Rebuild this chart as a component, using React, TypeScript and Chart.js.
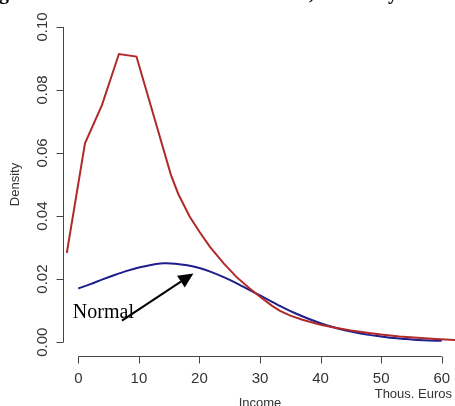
import { useEffect, useRef } from "react";
import { Chart, registerables } from "chart.js";

Chart.register(...registerables);

// Empirical income density (red)
const empiricalX = [-1.9, 1.1, 3.9, 6.7, 9.6, 15.3, 16.5, 18.4, 20, 21.7, 24, 26.1, 28.3, 30, 32, 33.3, 35, 37, 40, 42, 45, 48, 50, 53, 56, 59, 62.2];
const empiricalY = [0.0283, 0.0631, 0.0752, 0.0914, 0.0906, 0.0530, 0.0470, 0.0398, 0.0350, 0.0303, 0.0250, 0.0207, 0.0170, 0.0144, 0.0115, 0.0099, 0.0084, 0.0071, 0.0055, 0.0047, 0.0037, 0.0029, 0.0024, 0.0018, 0.0014, 0.0010, 0.0007];

// Normal density (blue)
const normalX = [0, 2, 4, 6, 8, 10, 12, 14, 16, 18, 20, 22, 24, 26, 28, 30, 32, 34, 36, 38, 40, 42, 44, 46, 48, 50, 52, 54, 56, 58, 60];
const normalY = [0.0170, 0.0184, 0.0199, 0.0213, 0.0226, 0.0237, 0.0245, 0.0250, 0.0249, 0.0244, 0.0235, 0.0222, 0.0206, 0.0188, 0.0168, 0.0148, 0.0128, 0.0108, 0.0090, 0.0074, 0.0060, 0.0048, 0.0038, 0.0030, 0.0023, 0.0018, 0.0013, 0.0010, 0.0007, 0.0005, 0.0004];

const xTicks = [0, 10, 20, 30, 40, 50, 60];
const yTicks = [0.0, 0.02, 0.04, 0.06, 0.08, 0.1];
const yTickLabels = ["0.00", "0.02", "0.04", "0.06", "0.08", "0.10"];

const xTitle = "Income";
const yTitle = "Density";
const unitLabel = "Thous. Euros";
const annotationText = "Normal";
const annotationTextPos = [-0.9, 0.0076];
const arrowTail = [7.2, 0.0068];
const arrowTip = [19.0, 0.0218];

const AXIS_COLOR = "#444";
const SANS = '"Liberation Sans", Arial, sans-serif';

const axesPlugin = {
  id: "rAxes",
  afterDraw(chart: any) {
    const ctx = chart.ctx as CanvasRenderingContext2D;
    const xs = chart.scales.x;
    const ys = chart.scales.y;
    const area = chart.chartArea;
    ctx.save();
    // caption fragments cropped at top
    ctx.fillStyle = "#000";
    ctx.font = 'bold 20px "Liberation Serif", serif';
    ctx.textBaseline = "alphabetic";
    ctx.textAlign = "left";
    ctx.fillText("g", -1, -1);
    ctx.fillText(",", 309, -1);
    ctx.fillText("y", 388, -1);

    ctx.strokeStyle = AXIS_COLOR;
    ctx.lineWidth = 1;
    // y axis
    const ax = Math.round(area.left) + 0.5;
    const y0 = ys.getPixelForValue(yTicks[0]);
    const y1 = ys.getPixelForValue(yTicks[yTicks.length - 1]);
    ctx.beginPath();
    ctx.moveTo(ax, y0);
    ctx.lineTo(ax, y1);
    yTicks.forEach((t) => {
      const py = Math.round(ys.getPixelForValue(t)) + 0.5;
      ctx.moveTo(ax, py);
      ctx.lineTo(ax - 7, py);
    });
    ctx.stroke();
    // x axis
    const ay = Math.round(area.bottom) + 0.5;
    const x0 = xs.getPixelForValue(xTicks[0]);
    const x1 = xs.getPixelForValue(xTicks[xTicks.length - 1]);
    ctx.beginPath();
    ctx.moveTo(x0, ay);
    ctx.lineTo(x1, ay);
    xTicks.forEach((t) => {
      const px = Math.round(xs.getPixelForValue(t)) + 0.5;
      ctx.moveTo(px, ay);
      ctx.lineTo(px, ay + 7);
    });
    ctx.stroke();

    // tick labels
    ctx.fillStyle = "#333";
    ctx.font = "15px " + SANS;
    ctx.textAlign = "center";
    ctx.textBaseline = "top";
    xTicks.forEach((t) => {
      ctx.fillText(String(t), xs.getPixelForValue(t), ay + 15);
    });
    yTicks.forEach((t, i) => {
      const py = ys.getPixelForValue(t);
      ctx.save();
      ctx.translate(ax - 13, py);
      ctx.rotate(-Math.PI / 2);
      ctx.textAlign = "center";
      ctx.textBaseline = "bottom";
      ctx.fillText(yTickLabels[i], 0, 0);
      ctx.restore();
    });

    // titles
    ctx.font = "13px " + SANS;
    ctx.textAlign = "center";
    ctx.textBaseline = "top";
    ctx.fillText(xTitle, (x0 + x1) / 2, 397);
    ctx.textAlign = "right";
    ctx.fillText(unitLabel, 452, 388);
    ctx.save();
    ctx.translate(22, (y0 + y1) / 2);
    ctx.rotate(-Math.PI / 2);
    ctx.textAlign = "center";
    ctx.textBaseline = "bottom";
    ctx.fillText(yTitle, 0, 0);
    ctx.restore();

    // annotation
    ctx.fillStyle = "#000";
    ctx.font = '20px "Liberation Serif", serif';
    ctx.textAlign = "left";
    ctx.textBaseline = "alphabetic";
    ctx.fillText(annotationText, xs.getPixelForValue(annotationTextPos[0]), ys.getPixelForValue(annotationTextPos[1]));

    const tx = xs.getPixelForValue(arrowTail[0]);
    const ty = ys.getPixelForValue(arrowTail[1]);
    const hx = xs.getPixelForValue(arrowTip[0]);
    const hy = ys.getPixelForValue(arrowTip[1]);
    const ang = Math.atan2(hy - ty, hx - tx);
    const headLen = 15;
    const headW = 7;
    const bx = hx - headLen * Math.cos(ang);
    const by = hy - headLen * Math.sin(ang);
    ctx.strokeStyle = "#000";
    ctx.lineWidth = 2;
    ctx.beginPath();
    ctx.moveTo(tx, ty);
    ctx.lineTo(bx, by);
    ctx.stroke();
    ctx.beginPath();
    ctx.moveTo(hx, hy);
    ctx.lineTo(bx + headW * Math.sin(ang), by - headW * Math.cos(ang));
    ctx.lineTo(bx - headW * Math.sin(ang), by + headW * Math.cos(ang));
    ctx.closePath();
    ctx.fill();
    ctx.restore();
  },
};

export default function App() {
  const ref = useRef<HTMLCanvasElement | null>(null);
  useEffect(() => {
    if (!ref.current) return;
    const chart = new Chart(ref.current, {
      type: "scatter",
      data: {
        datasets: [
          {
            label: "Empirical",
            data: empiricalX.map((x, i) => ({ x, y: empiricalY[i] })),
            showLine: true,
            borderColor: "#b02a2a",
            borderWidth: 2,
            pointRadius: 0,
            tension: 0,
            fill: false,
          },
          {
            label: "Normal",
            data: normalX.map((x, i) => ({ x, y: normalY[i] })),
            showLine: true,
            borderColor: "#1e1e8c",
            borderWidth: 2,
            pointRadius: 0,
            tension: 0.3,
            fill: false,
          },
        ],
      },
      options: {
        animation: false,
        responsive: false,
        devicePixelRatio: 1,
        layout: { padding: { left: 63, right: 0, top: 14, bottom: 50 } },
        plugins: { legend: { display: false }, tooltip: { enabled: false } },
        scales: {
          x: { type: "linear", min: -2.53, max: 62.19, display: false },
          y: { type: "linear", min: -0.0044, max: 0.1041, display: false },
        },
      },
      plugins: [axesPlugin],
    });
    return () => chart.destroy();
  }, []);
  return (
    <div style={{ position: "absolute", left: 0, top: 0, width: 455, height: 406, background: "#fff" }}>
      <canvas ref={ref} width={455} height={406} style={{ display: "block", width: 455, height: 406 }} />
    </div>
  );
}
